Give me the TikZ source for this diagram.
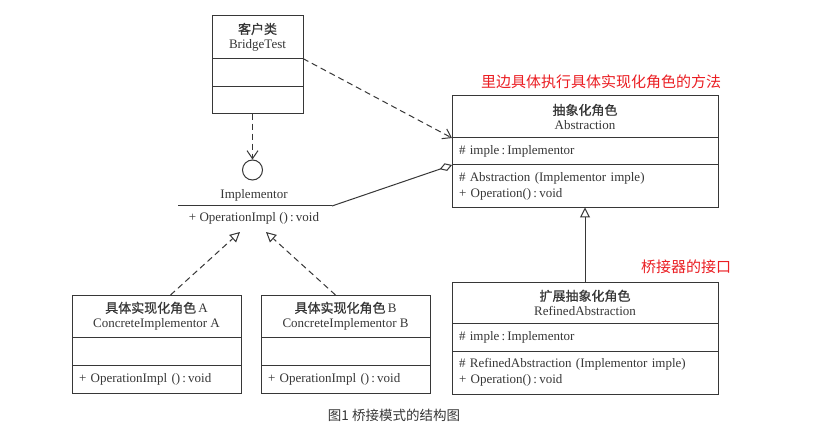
\documentclass[tikz,border=0pt]{standalone}
\usepackage{fontspec}
\setmainfont{Liberation Serif}
\newfontfamily\cjk{Noto Sans CJK SC}
\newfontfamily\cjkbox[FakeBold=0.6]{Noto Sans CJK SC}
\usetikzlibrary{arrows.meta,positioning}
\definecolor{umlgray}{RGB}{55,55,55}
\definecolor{notered}{RGB}{235,30,35}
\newcommand{\zh}[1]{{\cjkbox\fontsize{13}{15}\selectfont #1}}
\begin{document}
\begin{tikzpicture}[x=1pt,y=-1pt,font=\fontsize{13}{15}\selectfont,text=umlgray]
    \tikzset{
        hd/.style={draw=umlgray, line width=1pt, outer sep=0pt, inner sep=0pt, align=center, anchor=north west},
        cmp/.style={draw=umlgray, line width=1pt, outer sep=0pt, inner sep=0pt, inner xsep=7pt, align=left, font=\fontsize{13}{16}\selectfont},
        umlline/.style={draw=umlgray, line width=1pt},
        dep/.style={umlline, dash pattern=on 6pt off 4pt, -{Straight Barb[length=8pt,width=11pt]}},
        realize/.style={umlline, dash pattern=on 6pt off 4pt, -{Triangle[open,length=10pt,width=10pt]}},
        inherit/.style={umlline, -{Triangle[open,length=10pt,width=10pt]}},
        aggr/.style={umlline, -{Diamond[open,length=13pt,width=8pt]}},
        note/.style={text=notered, font=\cjk\fontsize{15}{18}\selectfont}
    }
    \useasboundingbox[fill=white] (0,0) rectangle (816,438);

    % Client class
    \node[hd, minimum width=91pt, minimum height=42.6pt] (bt) at (212,16) {\zh{客户类}\\BridgeTest};
    \node[cmp, minimum width=91pt, minimum height=27.7pt, below=0pt of bt] (btAttr) {};
    \node[cmp, minimum width=91pt, minimum height=27.3pt, below=0pt of btAttr] (btOp) {};

    % Abstraction
    \node[hd, minimum width=266pt, minimum height=42pt] (abs) at (452,96) {\zh{抽象化角色}\\Abstraction};
    \node[cmp, text width=252pt, minimum height=27pt, below=0pt of abs] (absAttr) {\# imple\,:\,Implementor};
    \node[cmp, text width=252pt, minimum height=42.5pt, below=0pt of absAttr] (absOp) {\# Abstraction (Implementor imple)\\+ Operation()\,:\,void};

    % Refined abstraction
    \node[hd, minimum width=266pt, minimum height=41.6pt] (ref) at (452,282) {\zh{扩展抽象化角色}\\RefinedAbstraction};
    \node[cmp, text width=252pt, minimum height=27.4pt, below=0pt of ref] (refAttr) {\# imple\,:\,Implementor};
    \node[cmp, text width=252pt, minimum height=43.3pt, below=0pt of refAttr] (refOp) {\# RefinedAbstraction (Implementor imple)\\+ Operation()\,:\,void};

    % Concrete implementors
    \node[hd, minimum width=169pt, minimum height=42.3pt] (cA) at (72,295) {\zh{具体实现化角色}\,A\\ConcreteImplementor A};
    \node[cmp, minimum width=169pt, minimum height=28.4pt, below=0pt of cA] (cAAttr) {};
    \node[cmp, text width=155pt, minimum height=27.6pt, below=0pt of cAAttr] (cAOp) {+ OperationImpl ()\,:\,void};

    \node[hd, minimum width=169pt, minimum height=42.3pt] (cB) at (261,295) {\zh{具体实现化角色}\,B\\ConcreteImplementor B};
    \node[cmp, minimum width=169pt, minimum height=28.4pt, below=0pt of cB] (cBAttr) {};
    \node[cmp, text width=155pt, minimum height=27.6pt, below=0pt of cBAttr] (cBOp) {+ OperationImpl ()\,:\,void};

    % Implementor interface
    \node[circle, draw=umlgray, line width=1pt, minimum size=20pt, inner sep=0pt] (impl) at (252.5,170) {};
    \node (implName) at (254,195) {Implementor};
    \node (implOp) at (254,218) {+ OperationImpl ()\,:\,void};
    \coordinate (implL) at (178,206);
    \coordinate (implR) at (332,206);
    \draw[umlline] (implL) -- (implR);
    \coordinate (tipA) at (240,232);
    \coordinate (tipB) at (266,232);

    % Connectors
    \draw[dep] (impl.north |- btOp.south) -- (impl.north);
    \draw[dep] (bt.south east) -- (abs.south west);
    \draw[aggr] (implR) -- (absAttr.south west);
    \draw[inherit] (ref.north) -- (absOp.south);
    \draw[realize] ([xshift=14pt]cA.north) -- (tipA);
    \draw[realize] ([xshift=-10pt]cB.north) -- (tipB);

    % Notes
    \node[note] (noteAbs) at (601,82) {里边具体执行具体实现化角色的方法};
    \node[note] (noteRef) at (686,267) {桥接器的接口};
    \node[font=\cjk\fontsize{13.5}{16}\selectfont] (cap) at (394,415) {图1 桥接模式的结构图};
\end{tikzpicture}
\end{document}
